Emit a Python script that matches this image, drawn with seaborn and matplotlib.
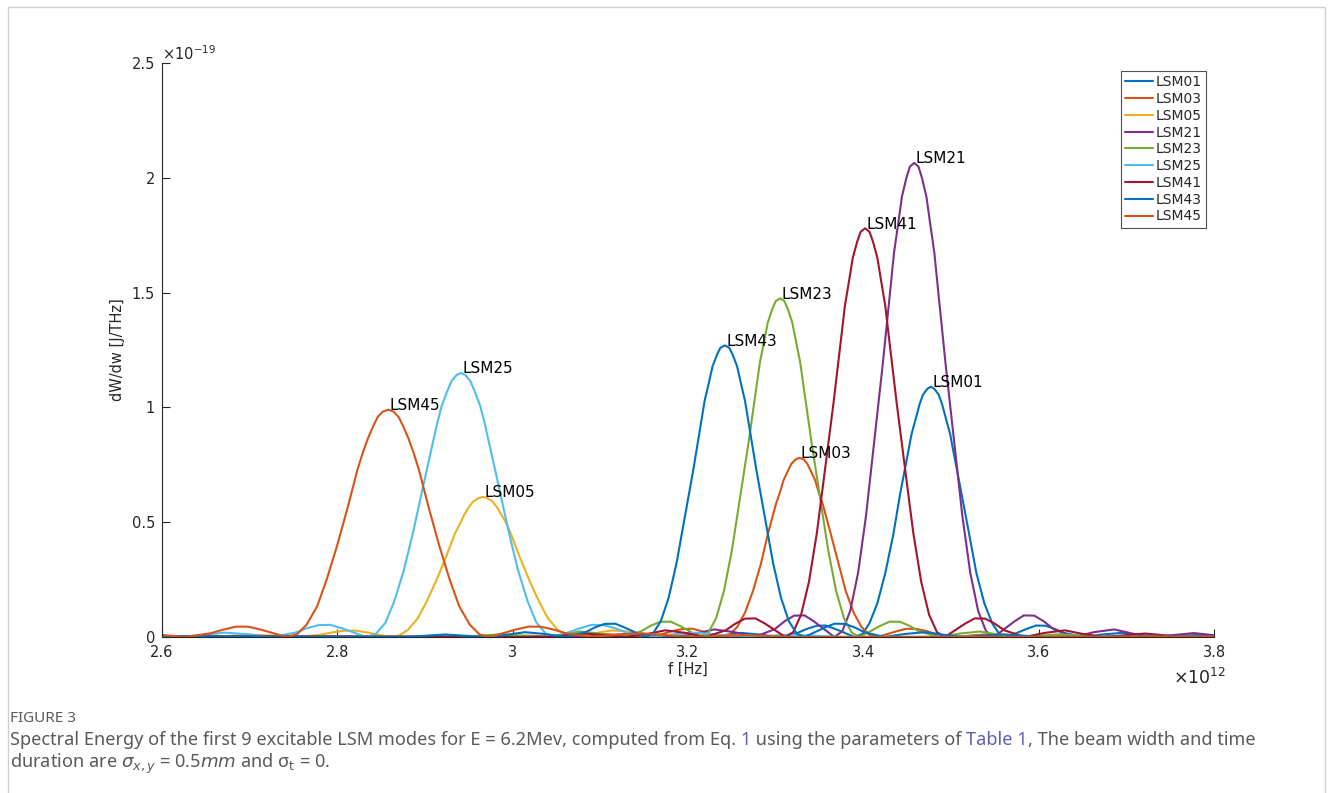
import numpy as np
import pandas as pd
import matplotlib
matplotlib.use("Agg")
import matplotlib.pyplot as plt
from matplotlib.patches import Rectangle
from matplotlib.ticker import FuncFormatter
import seaborn as sns

# frequency in units of 1e12 Hz, dW/dw in units of 1e-19 J/THz
modes = ["LSM01", "LSM03", "LSM05", "LSM21", "LSM23", "LSM25", "LSM41", "LSM43", "LSM45"]
colors = ["#0072BD", "#D95319", "#EDB120", "#7E2F8E", "#77AC30", "#4DBEEE", "#A2142F", "#0072BD", "#D95319"]

f_lsm01 = [2.600,
           3.129, 3.172, 3.216, 3.238, 3.260, 3.281, 3.303, 3.325, 3.336, 3.347, 3.357, 3.368, 3.390,
           3.399, 3.407, 3.416, 3.425, 3.434, 3.442, 3.451, 3.455, 3.460, 3.464, 3.468, 3.473, 3.477,
           3.481, 3.486, 3.490, 3.494, 3.499, 3.503, 3.512, 3.521, 3.529, 3.538, 3.547, 3.555,
           3.564, 3.586, 3.597, 3.608, 3.618, 3.629, 3.651, 3.673, 3.695, 3.716, 3.738, 3.782,
           3.800]
v_lsm01 = [0.003,
           0.000, 0.009, 0.000, 0.007, 0.018, 0.011, 0.000, 0.018, 0.036, 0.049, 0.050, 0.035, 0.000,
           0.013, 0.060, 0.147, 0.278, 0.442, 0.624, 0.803, 0.884, 0.954, 1.012, 1.055, 1.081, 1.090,
           1.081, 1.055, 1.012, 0.954, 0.884, 0.803, 0.624, 0.442, 0.278, 0.147, 0.060, 0.013,
           0.000, 0.035, 0.050, 0.049, 0.036, 0.018, 0.000, 0.011, 0.018, 0.007, 0.000, 0.009,
           0.005]

f_lsm03 = [2.600,
           2.971, 3.016, 3.060, 3.082, 3.105, 3.127, 3.149, 3.171, 3.182, 3.194, 3.205, 3.216, 3.238,
           3.247, 3.256, 3.265, 3.274, 3.283, 3.291, 3.300, 3.305, 3.309, 3.314, 3.318, 3.323, 3.327,
           3.332, 3.336, 3.340, 3.345, 3.349, 3.354, 3.363, 3.372, 3.380, 3.389, 3.398, 3.407,
           3.416, 3.438, 3.449, 3.461, 3.472, 3.483, 3.505, 3.527, 3.550, 3.572, 3.594, 3.639, 3.683,
           3.800]
v_lsm03 = [0.002,
           0.000, 0.006, 0.000, 0.005, 0.013, 0.008, 0.000, 0.013, 0.026, 0.035, 0.036, 0.025, 0.000,
           0.009, 0.043, 0.106, 0.199, 0.316, 0.447, 0.575, 0.632, 0.683, 0.724, 0.755, 0.774, 0.780,
           0.774, 0.755, 0.724, 0.683, 0.632, 0.575, 0.447, 0.316, 0.199, 0.106, 0.043, 0.009,
           0.000, 0.025, 0.036, 0.035, 0.026, 0.013, 0.000, 0.008, 0.013, 0.005, 0.000, 0.006, 0.000,
           0.002]

f_lsm05 = [2.600,
           2.648, 2.675, 2.701, 2.728, 2.754, 2.781, 2.794, 2.807, 2.820, 2.834, 2.860,
           2.871, 2.881, 2.892, 2.902, 2.913, 2.924, 2.934, 2.940, 2.945, 2.950, 2.955, 2.961, 2.966,
           2.971, 2.977, 2.982, 2.987, 2.993, 2.998, 3.008, 3.019, 3.030, 3.040, 3.051, 3.061,
           3.072, 3.099, 3.112, 3.125, 3.138, 3.152, 3.178, 3.205, 3.231, 3.258, 3.284, 3.337, 3.390,
           3.800]
v_lsm05 = [0.005,
           0.000, 0.004, 0.010, 0.006, 0.000, 0.010, 0.020, 0.027, 0.028, 0.020, 0.000,
           0.007, 0.033, 0.083, 0.155, 0.247, 0.349, 0.449, 0.494, 0.534, 0.566, 0.590, 0.605, 0.610,
           0.605, 0.590, 0.566, 0.534, 0.494, 0.449, 0.349, 0.247, 0.155, 0.083, 0.033, 0.007,
           0.000, 0.020, 0.028, 0.027, 0.020, 0.010, 0.000, 0.006, 0.010, 0.004, 0.000, 0.005, 0.000,
           0.002]

f_lsm21 = [2.600,
           3.094, 3.139, 3.185, 3.208, 3.230, 3.253, 3.276, 3.299, 3.310, 3.321, 3.333, 3.344, 3.367,
           3.376, 3.385, 3.394, 3.403, 3.412, 3.422, 3.431, 3.435, 3.440, 3.444, 3.449, 3.453, 3.458,
           3.463, 3.467, 3.472, 3.476, 3.481, 3.485, 3.494, 3.504, 3.513, 3.522, 3.531, 3.540,
           3.549, 3.572, 3.583, 3.595, 3.606, 3.617, 3.640, 3.663, 3.686, 3.708, 3.731, 3.777,
           3.800]
v_lsm21 = [0.003,
           0.000, 0.017, 0.000, 0.014, 0.033, 0.021, 0.000, 0.034, 0.068, 0.093, 0.094, 0.067, 0.000,
           0.025, 0.113, 0.279, 0.526, 0.837, 1.183, 1.521, 1.674, 1.807, 1.917, 1.998, 2.048, 2.065,
           2.048, 1.998, 1.917, 1.807, 1.674, 1.521, 1.183, 0.837, 0.526, 0.279, 0.113, 0.025,
           0.000, 0.067, 0.094, 0.093, 0.068, 0.034, 0.000, 0.021, 0.033, 0.014, 0.000, 0.017,
           0.008]

f_lsm23 = [2.600,
           2.941, 2.986, 3.032, 3.055, 3.077, 3.100, 3.123, 3.146, 3.157, 3.168, 3.180, 3.191, 3.214,
           3.223, 3.232, 3.241, 3.250, 3.259, 3.269, 3.278, 3.282, 3.287, 3.291, 3.296, 3.300, 3.305,
           3.310, 3.314, 3.319, 3.323, 3.328, 3.332, 3.341, 3.351, 3.360, 3.369, 3.378, 3.387,
           3.396, 3.419, 3.430, 3.442, 3.453, 3.464, 3.487, 3.510, 3.533, 3.555, 3.578, 3.624, 3.669,
           3.800]
v_lsm23 = [0.003,
           0.000, 0.012, 0.000, 0.010, 0.024, 0.015, 0.000, 0.024, 0.048, 0.066, 0.067, 0.048, 0.000,
           0.018, 0.081, 0.200, 0.376, 0.598, 0.845, 1.087, 1.196, 1.291, 1.369, 1.427, 1.463, 1.475,
           1.463, 1.427, 1.369, 1.291, 1.196, 1.087, 0.845, 0.598, 0.376, 0.200, 0.081, 0.018,
           0.000, 0.048, 0.067, 0.066, 0.048, 0.024, 0.000, 0.015, 0.024, 0.010, 0.000, 0.012, 0.000,
           0.003]

f_lsm25 = [2.600,
           2.617, 2.644, 2.671, 2.698, 2.725, 2.752, 2.765, 2.779, 2.792, 2.806, 2.833,
           2.844, 2.855, 2.865, 2.876, 2.887, 2.898, 2.909, 2.914, 2.919, 2.925, 2.930, 2.936, 2.941,
           2.946, 2.952, 2.957, 2.963, 2.968, 2.973, 2.984, 2.995, 3.006, 3.017, 3.027, 3.038,
           3.049, 3.076, 3.090, 3.103, 3.117, 3.130, 3.157, 3.184, 3.211, 3.238, 3.265, 3.319, 3.373,
           3.800]
v_lsm25 = [0.003,
           0.000, 0.008, 0.019, 0.012, 0.000, 0.019, 0.038, 0.052, 0.053, 0.037, 0.000,
           0.014, 0.063, 0.156, 0.293, 0.466, 0.659, 0.847, 0.932, 1.006, 1.067, 1.113, 1.141, 1.150,
           1.141, 1.113, 1.067, 1.006, 0.932, 0.847, 0.659, 0.466, 0.293, 0.156, 0.063, 0.014,
           0.000, 0.037, 0.053, 0.052, 0.038, 0.019, 0.000, 0.012, 0.019, 0.008, 0.000, 0.010, 0.000,
           0.002]

f_lsm41 = [2.600,
           3.038, 3.083, 3.129, 3.152, 3.174, 3.197, 3.220, 3.243, 3.254, 3.265, 3.277, 3.288, 3.311,
           3.320, 3.329, 3.338, 3.347, 3.356, 3.366, 3.375, 3.379, 3.384, 3.388, 3.393, 3.397, 3.402,
           3.407, 3.411, 3.416, 3.420, 3.425, 3.429, 3.438, 3.448, 3.457, 3.466, 3.475, 3.484,
           3.493, 3.516, 3.527, 3.539, 3.550, 3.561, 3.584, 3.607, 3.630, 3.652, 3.675, 3.721, 3.766,
           3.800]
v_lsm41 = [0.003,
           0.000, 0.015, 0.000, 0.012, 0.029, 0.018, 0.000, 0.029, 0.058, 0.080, 0.081, 0.058, 0.000,
           0.021, 0.097, 0.241, 0.453, 0.721, 1.020, 1.312, 1.443, 1.558, 1.652, 1.722, 1.765, 1.780,
           1.765, 1.722, 1.652, 1.558, 1.443, 1.312, 1.020, 0.721, 0.453, 0.241, 0.097, 0.021,
           0.000, 0.058, 0.081, 0.080, 0.058, 0.029, 0.000, 0.018, 0.029, 0.012, 0.000, 0.015, 0.000,
           0.004]

f_lsm43 = [2.600,
           2.878, 2.923, 2.969, 2.992, 3.014, 3.037, 3.060, 3.083, 3.094, 3.105, 3.117, 3.128, 3.151,
           3.160, 3.169, 3.178, 3.187, 3.196, 3.206, 3.215, 3.219, 3.224, 3.228, 3.233, 3.237, 3.242,
           3.247, 3.251, 3.256, 3.260, 3.265, 3.269, 3.278, 3.288, 3.297, 3.306, 3.315, 3.324,
           3.333, 3.356, 3.367, 3.379, 3.390, 3.401, 3.424, 3.447, 3.470, 3.492, 3.515, 3.561, 3.606,
           3.800]
v_lsm43 = [0.003,
           0.000, 0.011, 0.000, 0.009, 0.021, 0.013, 0.000, 0.021, 0.042, 0.057, 0.058, 0.041, 0.000,
           0.015, 0.069, 0.172, 0.323, 0.515, 0.727, 0.936, 1.029, 1.111, 1.179, 1.229, 1.260, 1.270,
           1.260, 1.229, 1.179, 1.111, 1.029, 0.936, 0.727, 0.515, 0.323, 0.172, 0.069, 0.015,
           0.000, 0.041, 0.058, 0.057, 0.042, 0.021, 0.000, 0.013, 0.021, 0.009, 0.000, 0.011, 0.000,
           0.003]

f_lsm45 = [2.600,
           2.626, 2.655, 2.670, 2.684, 2.698, 2.713, 2.742,
           2.754, 2.765, 2.777, 2.788, 2.800, 2.812, 2.823, 2.829, 2.835, 2.841, 2.846, 2.852, 2.858,
           2.864, 2.870, 2.875, 2.881, 2.887, 2.893, 2.904, 2.916, 2.928, 2.939, 2.951, 2.962,
           2.974, 3.003, 3.018, 3.032, 3.047, 3.061, 3.090, 3.119, 3.148, 3.177, 3.206, 3.264, 3.322,
           3.800]
v_lsm45 = [0.009,
           0.000, 0.016, 0.032, 0.045, 0.045, 0.032, 0.000,
           0.012, 0.054, 0.134, 0.252, 0.401, 0.567, 0.729, 0.802, 0.866, 0.919, 0.958, 0.982, 0.990,
           0.982, 0.958, 0.919, 0.866, 0.802, 0.729, 0.567, 0.401, 0.252, 0.134, 0.054, 0.012,
           0.000, 0.032, 0.045, 0.045, 0.032, 0.016, 0.000, 0.010, 0.016, 0.007, 0.000, 0.008, 0.000,
           0.002]

x_ticks = [2.6, 2.8, 3.0, 3.2, 3.4, 3.6, 3.8]
y_ticks = [0, 0.5, 1, 1.5, 2, 2.5]

f_all = [f_lsm01, f_lsm03, f_lsm05, f_lsm21, f_lsm23, f_lsm25, f_lsm41, f_lsm43, f_lsm45]
v_all = [v_lsm01, v_lsm03, v_lsm05, v_lsm21, v_lsm23, v_lsm25, v_lsm41, v_lsm43, v_lsm45]

df = pd.concat(
    [pd.DataFrame({"f": f, "dW": v, "mode": m}) for m, f, v in zip(modes, f_all, v_all)],
    ignore_index=True,
)

sns.set_style("ticks", {"xtick.direction": "in", "ytick.direction": "in"})
plt.rcParams["font.family"] = ["DejaVu Sans"]

W, H = 1333, 793
fig = plt.figure(figsize=(W / 100, H / 100), dpi=100)
ax = fig.add_axes([162 / W, 1 - 637 / H, 1052 / W, 574 / H])

sns.lineplot(data=df, x="f", y="dW", hue="mode", hue_order=modes,
             palette=dict(zip(modes, colors)), estimator=None, sort=False,
             linewidth=1.5, ax=ax)

ax.set_xlim(2.6, 3.8)
ax.set_ylim(0, 2.5)
ax.set_xticks(x_ticks)
ax.set_yticks(y_ticks)
fmt = FuncFormatter(lambda val, pos: "%g" % val)
ax.xaxis.set_major_formatter(fmt)
ax.yaxis.set_major_formatter(fmt)
sns.despine(ax=ax)
for side in ["left", "bottom"]:
    ax.spines[side].set_color("#262626")
    ax.spines[side].set_linewidth(0.8)
ax.tick_params(axis="both", direction="in", length=5.5, width=0.8, color="#262626",
               labelsize=10.5, labelcolor="#262626")
ax.tick_params(axis="x", pad=6)
ax.tick_params(axis="y", pad=5)
ax.set_xlabel("f [Hz]", fontsize=10.5, color="#262626", labelpad=1)
ax.set_ylabel("dW/dw [J/THz]", fontsize=10.5, color="#262626", labelpad=5)

ax.text(0.0, 1.0, r"$\times10^{-19}$", transform=ax.transAxes, ha="left", va="bottom",
        fontsize=10.5, color="#262626")
fig.text(1226 / W, 1 - 678 / H, r"$\times10^{12}$", ha="right", va="center",
         fontsize=12.5, color="#262626")

# labels at the peak of each mode
for m, f, v in zip(modes, f_all, v_all):
    i = int(np.argmax(v))
    ax.annotate(m, (f[i], v[i]), xytext=(1, 3), textcoords="offset points",
                ha="left", va="center", fontsize=11, color="black")

sns.move_legend(ax, "upper right", bbox_to_anchor=(0.992, 0.986), title=None,
                fontsize=10, frameon=True, fancybox=False, labelspacing=0.2,
                handlelength=2.0, handletextpad=0.2, borderpad=0.3, borderaxespad=0)
leg = ax.get_legend()
leg.get_frame().set_edgecolor("#262626")
leg.get_frame().set_linewidth(0.8)
for line in leg.get_lines():
    line.set_linewidth(1.5)

# caption below the chart
cap_font = ["Noto Sans", "DejaVu Sans"]
cap_col = "#5a5a5a"
link_col = "#5b5fb6"
cap_size = 13.1
fig.text(10 / W, 1 - 718 / H, "FIGURE 3", fontsize=11, color=cap_col, family=cap_font,
         va="center")
t = fig.text(10 / W, 1 - 740 / H,
             "Spectral Energy of the first 9 excitable LSM modes for E = 6.2Mev, computed from Eq. ",
             fontsize=cap_size, color=cap_col, family=cap_font, va="center")
for piece, col in [("1", link_col), (" using the parameters of ", cap_col),
                   ("Table 1", link_col), (", The beam width and time", cap_col)]:
    t = ax.annotate(piece, xy=(1, 0), xycoords=t, va="bottom", ha="left", fontsize=cap_size,
                    color=col, family=cap_font, annotation_clip=False)
fig.text(10 / W, 1 - 764 / H,
         r"duration are $\sigma_{x,y}$ = 0.5$mm$ and σ$_{\mathrm{t}}$ = 0.",
         fontsize=cap_size, color=cap_col, family=cap_font, va="center")

# thin page frame
fig.patches.append(Rectangle((8 / W, -0.02), 1317 / W, 1.02 - 7 / H, transform=fig.transFigure,
                             fill=False, edgecolor="#d0d0d0", linewidth=1.0))

fig.savefig("out.png", dpi=100)
